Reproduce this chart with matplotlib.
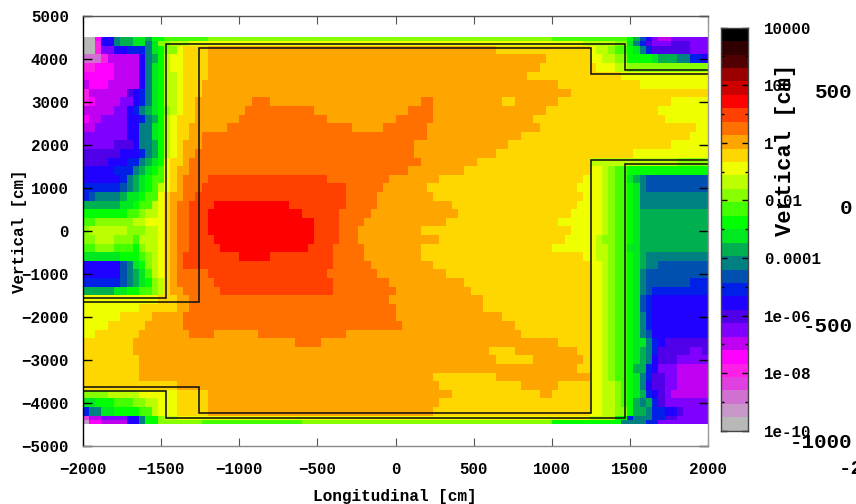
import numpy as np
import matplotlib
matplotlib.use("Agg")
import matplotlib.pyplot as plt
from matplotlib.colors import ListedColormap, BoundaryNorm

W, H = 856, 504
FONT = "Liberation Mono"

# colour bands, lowest first
BAND_KEYS = "abcdefghijklmnopqrstuvwxyzABCD"
BAND_COLORS = ["#B8B8B8", "#C898C8", "#D070D0", "#E040E0", "#FF20E8", "#FF00FF",
               "#C000F0", "#8000FF", "#5000E8", "#2000FF", "#0020E8", "#0050B0",
               "#008080", "#00B050", "#00E820", "#00FF00", "#44FF00", "#88FF00",
               "#BBFF00", "#EFFF00", "#FFD700", "#FFA500", "#FF7000", "#FF4000",
               "#FF0000", "#CC0000", "#9B0000", "#500000", "#300000", "#000000"]
BAND_MIN_EXP, BAND_MAX_EXP = -10, 4

# edges of the map in cm
Y_EDGES = [4500, 4400, 4300] + list(range(4100, -4301, -200)) + [-4400, -4500]
X_EDGES = list(range(-2000, 2001, 40))

# each row top to bottom: band letter followed by its right edge in cm
FIELD_ROWS = [
 "a-1920 f-1880 j-1800 m-1760 n-1690 o-1600 n-1560 p-1480 q-1200 r1000 q1468 p1521 n1553 l1595 j1632 h1700 g1750 h2000",
 "a-1920 e-1880 j-1800 m-1760 n-1690 o-1600 m-1560 o-1500 r-1440 s-1300 t1200 s1400 r1468 o1521 m1553 k1595 i1632 h1750 i1870 h2000",
 "a-1925 e-1880 h-1800 j-1700 k-1610 m-1560 o-1500 p-1470 r-1400 t-1340 u-1200 v640 u1250 t1300 s1350 r1400 q1468 p1521 o1553 m1595 k1632 i1872 h2000",
 "c-1880 e-1820 g-1650 j-1600 m-1560 n-1530 p-1480 q-1470 s-1420 t-1340 u-1200 v956 u1250 t1330 s1400 r1468 q1500 p1650 o1700 n1800 m1900 k1960 j2000",
 "e-1900 f-1780 g-1650 j-1610 m-1560 o-1520 p-1470 s-1420 t-1360 u-1200 v913 u1300 t1400 s1468 r2000",
 "f-1780 g-1640 j-1600 m-1560 o-1510 p-1470 s-1410 t-1360 u-1210 v839 u1436 t2000",
 "g-1950 f-1840 g-1640 j-1600 m-1560 o-1510 p-1470 s-1400 t-1340 u-1250 v1030 u1542 t2000",
 "e-1950 g-1700 i-1660 j-1630 k-1600 m-1560 o-1520 p-1470 s-1400 t-1340 u-1250 v1116 u2000",
 "e-1950 f-1900 g-1750 h-1680 j-1640 k-1610 m-1540 o-1520 p-1470 s-1410 t-1350 u-1260 v-930 w-800 v157 w231 v680 u753 v1052 u1776 t2000",
 "g-1780 h-1700 j-1660 k-1620 m-1580 n-1540 o-1500 p-1470 r-1430 s-1410 t-1370 u-1270 v-962 w-526 v71 w231 v945 u1681 t2000",
 "f-1950 g-1860 h-1700 j-1640 k-1610 m-1560 n-1530 p-1470 s-1420 t-1380 u-1290 v-1005 w-440 v0 w231 v881 u1734 t2000",
 "g-1900 h-1700 j-1640 k-1620 m-1570 o-1520 p-1470 s-1420 t-1390 u-1310 v-1090 w-291 v-78 w200 v913 u1926 t2000",
 "h-1700 j-1650 k-1620 m-1570 o-1520 p-1470 s-1420 t-1400 u-1320 v-1250 w200 v817 u1883 t2000",
 "h-1780 i-1670 j-1640 k-1620 m-1570 n-1530 o-1500 p-1470 s-1430 t-1400 u-1340 v-1250 w114 v722 u1755 t2000",
 "i-1770 j-1650 k-1600 m-1560 n-1520 p-1470 s-1440 t-1400 u-1340 v-1290 w114 v626 u1521 t2000",
 "i-1850 j-1700 k-1640 m-1600 n-1560 o-1510 p-1470 t-1430 u-1370 v-1300 w146 v519 u1250 s1800 r2000",
 "j-1800 k-1680 m-1640 n-1610 o-1550 p-1500 q-1470 t-1440 u-1380 v-1310 w71 v455 u1250 t1318 s1350 r1390 q1468 p2000",
 "j-1760 k-1730 m-1690 n-1640 o-1600 p-1540 q-1470 t-1440 u-1400 v-1340 w-1207 x-440 w-35 v263 u1190 t1318 s1361 r1404 q1468 o1510 n1553 m1600 l2000",
 "k-1750 l-1720 m-1680 n-1640 o-1600 p-1560 q-1500 s-1470 t-1440 u-1410 v-1340 w-1250 x-323 w-78 v199 u1180 t1318 s1361 r1404 q1468 p1510 o1553 m1595 l2000",
 "k-1950 l-1900 m-1760 n-1700 o-1640 p-1580 q-1530 s-1500 t-1460 u-1420 v-1340 w-1280 x-323 w-131 v242 u1190 t1318 s1361 r1404 q1468 p1510 o1553 m2000",
 "n-1750 o-1660 p-1620 q-1570 s-1530 t-1470 u-1440 v-1400 w-1320 x-1165 y-696 x-323 w-131 v348 u1150 t1318 s1361 r1404 q1468 p1510 o1553 m2000",
 "p-1700 q-1640 r-1590 s-1530 t-1470 u-1440 v-1400 w-1330 x-1207 y-590 x-366 w-163 v391 u1116 t1318 s1361 r1404 q1468 p1510 o1553 n2000",
 "q-1900 r-1680 s-1580 t-1470 u-1440 v-1400 w-1330 x-1207 y-526 x-366 w-206 v306 u1050 t1318 s1361 r1404 q1468 p1510 o1553 n2000",
 "r-1950 s-1720 r-1610 s-1530 t-1470 u-1440 v-1400 w-1330 x-1207 y-526 x-366 w-238 v156 u1116 t1318 s1361 r1404 q1468 p1510 o1553 n2000",
 "r-1900 s-1790 r-1680 q-1630 s-1530 t-1470 u-1440 v-1400 w-1330 x-1175 y-526 x-366 w-238 v274 u1100 t1276 s1340 r1393 q1468 p1510 o1553 n2000",
 "q-1900 r-1780 q-1680 p-1620 r-1580 s-1530 t-1470 u-1440 v-1400 w-1330 x-1122 y-568 x-398 w-206 v156 u1009 t1276 s1350 r1393 q1468 o1553 n2000",
 "o-1750 p-1650 q-1600 r-1570 s-1530 t-1470 u-1440 v-1400 w-1340 x-1005 y-803 x-398 w-206 v156 u1190 t1276 s1350 r1393 q1468 p1510 o1553 n1595 m2000",
 "j-1760 l-1720 m-1690 o-1640 p-1590 r-1550 s-1530 t-1470 u-1440 v-1400 w-1350 x-398 w-163 v231 u1250 t1318 s1350 r1393 q1468 p1510 o1553 n1595 m1700 l2000",
 "j-1760 l-1720 m-1680 n-1640 o-1600 q-1560 s-1500 t-1470 u-1440 v-1390 w-1207 x-440 w-121 v327 u1250 t1318 s1350 r1393 q1468 p1510 o1553 m1595 l2000",
 "k-1770 l-1720 m-1680 n-1640 o-1600 p-1560 r-1530 s-1470 u-1430 v-1380 w-1165 x-398 w-57 v444 u1250 t1318 s1350 r1393 q1468 p1510 o1553 m1595 l1900 k2000",
 "n-1800 o-1700 p-1620 q-1560 r-1500 s-1470 u-1430 v-1340 w-1122 x-398 w-3 v466 u1250 t1318 s1350 r1393 q1468 p1510 o1553 m1595 l1638 k2000",
 "t-1500 u-1410 v-1330 w-35 v550 u1250 t1318 s1350 r1393 q1468 p1510 o1553 l1595 k1638 j2000",
 "t-1640 u-1400 v-1325 w-3 v562 u1250 t1318 s1350 r1393 q1468 p1510 o1553 l1595 k1638 j2000",
 "t-1760 u-1570 v-1368 w-3 v668 u1250 t1318 s1350 r1393 q1468 p1510 o1553 m1595 k1638 j2000",
 "t-1850 u-1600 v-1360 w28 v764 u1230 t1318 s1350 r1393 q1468 p1510 o1553 m1595 k1638 j2000",
 "t-1930 u-1630 v-1314 w-1165 v-866 w-314 v796 u1250 t1318 s1350 r1393 q1468 p1510 o1553 m1595 l1638 j2000",
 "u-1687 v-642 w-483 v1052 u1250 t1318 s1350 r1393 q1468 p1510 o1595 m1638 k1681 j1713 i2000",
 "u-1690 v594 u753 v1158 u1250 t1318 s1350 r1393 q1468 p1510 o1553 n1595 m1638 k1681 i1900 h1960 i2000",
 "u-1644 v626 u871 v1190 u1250 t1318 s1350 r1393 q1468 p1510 o1553 n1595 m1638 l1660 j1700 i1798 h2000",
 "u-1644 v1169 u1250 t1318 s1350 r1393 q1468 p1510 n1595 m1615 k1660 j1700 h1800 g2000",
 "u-1630 v242 u626 v1222 u1250 t1318 s1350 r1393 q1468 p1510 o1553 m1595 k1638 i1713 h1800 g2000",
 "u-1400 v274 u796 v1030 u1250 t1340 s1400 r1450 q1468 p1510 o1553 m1595 j1638 i1720 h1800 g2000",
 "r-1850 s-1650 t-1400 u-1200 v349 u924 v988 u1250 t1330 s1393 r1440 q1468 p1510 o1553 n1595 k1638 j1680 i1710 h1755 g2000",
 "o-1900 p-1800 q-1690 r-1600 s-1530 t-1400 u-1200 v285 u1250 t1318 s1393 r1436 q1468 p1510 n1553 m1595 n1638 l1660 k1700 i1740 h2000",
 "k-1950 m-1880 o-1780 p-1650 q-1570 s-1500 t-1400 u-1200 v231 u1250 t1318 s1393 r1468 p1510 n1595 m1660 k1720 j1798 i1830 h2000",
 "d-1950 g-1880 h-1700 j-1620 m-1590 p-1530 r-1470 s-1400 t1250 s1400 p1468 o1500 k1530 m1650 k1720 i1800 h2000",
 "b-1950 f-1880 g-1700 j-1620 m-1590 p-1530 r-1250 q-600 r1000 p1450 m1600 k1680 h2000",
]

# structure outlines, cm
INNER_UPPER_X = [-2000, -1255, -1255, 1250, 1250, 2000]
INNER_UPPER_Y = [-1650, -1650, 4250, 4250, 3640, 3640]
INNER_LOWER_X = [2000, 1250, 1250, -1255, -1255, -2000]
INNER_LOWER_Y = [1650, 1650, -4250, -4250, -3640, -3640]
OUTER_UPPER_X = [-2000, -1467, -1467, 1467, 1467, 2000]
OUTER_UPPER_Y = [-1560, -1560, 4350, 4350, 3740, 3740]
OUTER_LOWER_X = [2000, 1467, 1467, -1467, -1467, -2000]
OUTER_LOWER_Y = [1550, 1550, -4350, -4350, -3730, -3730]

X_TICKS = [-2000, -1500, -1000, -500, 0, 500, 1000, 1500, 2000]
Y_TICKS = [-5000, -4000, -3000, -2000, -1000, 0, 1000, 2000, 3000, 4000, 5000]
CB_TICKS = [1e4, 1e2, 1, 1e-2, 1e-4, 1e-6, 1e-8, 1e-10]
CB_LABELS = ["10000", "100", "1", "0.01", "0.0001", "1e-06", "1e-08", "1e-10"]
CB_MINOR = [1e3, 1e1, 1e-1, 1e-3, 1e-5, 1e-7, 1e-9]

# leftover text of another plot sitting on the right edge
STRAY_LABELS = [("500", 93), ("0", 208), ("-500", 327), ("-1000", 443)]


def axes_px(fig, left, top, right, bottom):
    return fig.add_axes([left / W, 1 - bottom / H, (right - left) / W, (bottom - top) / H])


def expand(row):
    tokens = [(t[0], float(t[1:])) for t in row.split()]
    centers = (np.array(X_EDGES[:-1]) + np.array(X_EDGES[1:])) / 2
    out = []
    for c in centers:
        for key, edge in tokens:
            if c < edge:
                out.append(BAND_KEYS.index(key))
                break
        else:
            out.append(BAND_KEYS.index(tokens[-1][0]))
    return out


bounds = np.logspace(BAND_MIN_EXP, BAND_MAX_EXP, len(BAND_COLORS) + 1)
centers = np.sqrt(bounds[:-1] * bounds[1:])
cmap = ListedColormap(BAND_COLORS)
norm = BoundaryNorm(bounds, cmap.N)
field = centers[np.array([expand(r) for r in FIELD_ROWS])]

plt.rcParams["font.family"] = [FONT, "DejaVu Sans Mono"]
plt.rcParams["font.weight"] = "bold"
fig = plt.figure(figsize=(W / 100, H / 100), dpi=100, facecolor="white")

ax = axes_px(fig, 82.7, 15.7, 708.5, 445.7)
ax.pcolormesh(X_EDGES, Y_EDGES, field, cmap=cmap, norm=norm, antialiased=False, linewidth=0, rasterized=True)
for xs, ys in [(INNER_UPPER_X, INNER_UPPER_Y), (INNER_LOWER_X, INNER_LOWER_Y),
               (OUTER_UPPER_X, OUTER_UPPER_Y), (OUTER_LOWER_X, OUTER_LOWER_Y)]:
    ax.plot(xs, ys, color="#111111", lw=1.15, solid_joinstyle="miter", clip_on=True)
ax.set_xlim(-2000, 2000)
ax.set_ylim(-5000, 5000)
ax.set_xticks(X_TICKS)
ax.set_yticks(Y_TICKS)
ax.tick_params(axis="x", direction="in", length=6, width=0.8, color="#555555",
               top=True, labelsize=11.4, pad=12)
ax.tick_params(axis="y", direction="in", length=6.5, width=1.0, color="black",
               right=True, labelsize=11.4, pad=10)
for side, col in [("left", "black"), ("bottom", "#888888"), ("top", "#555555"), ("right", "#999999")]:
    ax.spines[side].set_color(col)
    ax.spines[side].set_linewidth(1.0)

cax = axes_px(fig, 721.3, 27.7, 747.7, 430.7)
cax.pcolormesh([0, 1], bounds, np.array(centers).reshape(-1, 1), cmap=cmap, norm=norm,
               antialiased=False, linewidth=0, rasterized=True)
cax.set_yscale("log")
cax.set_ylim(1e-10, 1e4)
cax.set_xlim(0, 1)
cax.set_xticks([])
cax.set_yticks(CB_TICKS)
cax.set_yticklabels(CB_LABELS)
cax.set_yticks(CB_MINOR, minor=True)
cax.set_yticklabels([""] * len(CB_MINOR), minor=True)
cax.tick_params(axis="y", which="major", direction="in", length=4.5, width=1.0, right=True,
                labelsize=11.4, pad=12)
cax.tick_params(axis="y", which="minor", direction="in", length=2.5, width=1.0, right=True)
cax.yaxis.set_ticks_position("both")
cax.tick_params(axis="y", which="major", labelleft=False, labelright=True)
for lab in cax.get_yticklabels():
    lab.set_ha("left")
for sp in cax.spines.values():
    sp.set_color("#444444")
    sp.set_linewidth(1.0)

fig.text(395 / W, 1 - 496 / H, "Longitudinal [cm]", ha="center", va="center", fontsize=11.6)
fig.text(19.5 / W, 1 - 231 / H, "Vertical [cm]", rotation=90, ha="center", va="center", fontsize=11.4)
fig.text(786 / W, 1 - 150 / H, "Vertical [cm]", rotation=90, ha="center", va="center", fontsize=15.8)
for txt, y in STRAY_LABELS:
    fig.text(852.5 / W, 1 - y / H, txt, ha="right", va="center", fontsize=15)
fig.text(839 / W, 1 - 468 / H, "-2000", ha="left", va="center", fontsize=15)

fig.savefig("out.png", dpi=100, facecolor="white")
